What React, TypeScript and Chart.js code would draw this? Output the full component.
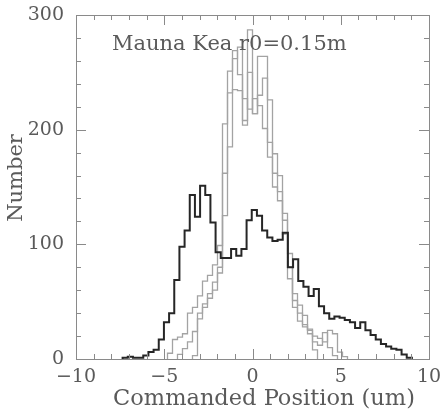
import React, { useEffect, useRef } from 'react';
import { Chart, registerables } from 'chart.js';

Chart.register(...registerables);

// Black histogram (bins start at blackStart, width blackWidth)
const blackStart = -7.36;
const blackWidth = 0.2927;
const blackCounts = [
  1, 2, 1, 1, 3, 6, 8, 17, 32, 40,
  69, 98, 112, 143, 124, 151, 143, 119, 93, 88,
  88, 96, 90, 96, 121, 130, 125, 112, 106, 103,
  104, 110, 80, 87, 68, 63, 55, 61, 46, 40,
  35, 37, 36, 34, 32, 27, 32, 25, 21, 17,
  13, 11, 9, 8, 4, 1,
];

// Gray histograms
const grayWidth = 0.2833;
const grayAStart = -4.816;
const grayACounts = [
  5, 17, 19, 22, 40, 45, 55, 68, 73, 82,
  99, 205, 251, 269, 248, 208, 287, 214, 264, 264,
  226, 179, 160, 127, 92, 57, 47, 38, 26, 8,
];
const grayBStart = -4.25;
const grayBCounts = [
  4, 9, 15, 24, 35, 48, 57, 67, 80, 162,
  232, 262, 272, 227, 218, 227, 221, 201, 189, 162,
  146, 121, 80, 51, 40, 30, 22, 15, 12, 23,
  10, 3,
];
const grayCStart = -3.4;
const grayCCounts = [
  3, 40, 45, 53, 60, 75, 125, 185, 235, 234,
  204, 250, 214, 230, 245, 176, 150, 138, 109, 70,
  45, 33, 28, 25, 20, 18, 15, 25, 22, 6,
  2,
];

const xTickLabels = [-10, -5, 0, 5, 10];
const yTickLabels = [0, 100, 200, 300];
const xMinorStep = 1;
const yMinorStep = 20;

const titleText = 'Mauna Kea r0=0.15m';
const xTitle = 'Commanded Position (um)';
const yTitle = 'Number';

function histPoints(start: number, width: number, counts: number[]) {
  const pts: { x: number; y: number }[] = [{ x: start, y: 0 }];
  counts.forEach((c, i) => pts.push({ x: start + i * width, y: c }));
  pts.push({ x: start + counts.length * width, y: 0 });
  return pts;
}

const TEXT = '#5a5a5a';
const AXIS = '#8a8a8a';
const FONT_TITLE = '21px "DejaVu Serif"';
const FONT_XTITLE = '22.5px "DejaVu Serif"';
const FONT_TICK = '19px "DejaVu Serif"';

const framePlugin = {
  id: 'frameTicks',
  afterDraw(chart: any) {
    const { ctx, chartArea } = chart;
    const xs = chart.scales.x;
    const ys = chart.scales.y;
    const { left, right, top, bottom } = chartArea;
    ctx.save();
    ctx.strokeStyle = AXIS;
    ctx.lineWidth = 1;
    ctx.strokeRect(left + 0.5, top + 0.5, right - left, bottom - top);
    ctx.beginPath();
    for (let v = xs.min; v <= xs.max + 1e-9; v += xMinorStep) {
      const px = Math.round(xs.getPixelForValue(v)) + 0.5;
      const len = Math.abs(v % 5) < 1e-9 ? 10 : 5;
      ctx.moveTo(px, bottom);
      ctx.lineTo(px, bottom - len);
      ctx.moveTo(px, top);
      ctx.lineTo(px, top + len);
    }
    for (let v = ys.min; v <= ys.max + 1e-9; v += yMinorStep) {
      const py = Math.round(ys.getPixelForValue(v)) + 0.5;
      const len = Math.abs(v % 100) < 1e-9 ? 10 : 5;
      ctx.moveTo(left, py);
      ctx.lineTo(left + len, py);
      ctx.moveTo(right, py);
      ctx.lineTo(right - len, py);
    }
    ctx.stroke();

    ctx.fillStyle = TEXT;
    ctx.font = FONT_TICK;
    ctx.textAlign = 'center';
    ctx.textBaseline = 'middle';
    xTickLabels.forEach((v) => {
      const label = String(v).replace('-', '\u2212');
      ctx.fillText(label, xs.getPixelForValue(v), bottom + 18);
    });
    ctx.textAlign = 'right';
    yTickLabels.forEach((v) => {
      ctx.fillText(String(v), left - 12, ys.getPixelForValue(v));
    });

    ctx.font = FONT_XTITLE;
    ctx.textAlign = 'center';
    ctx.fillText(xTitle, 264, 399);
    ctx.font = FONT_TITLE;
    ctx.textAlign = 'left';
    ctx.fillText(titleText, 112, 45);

    ctx.save();
    ctx.translate(17, 178);
    ctx.rotate(-Math.PI / 2);
    ctx.textAlign = 'center';
    ctx.fillText(yTitle, 0, 0);
    ctx.restore();
    ctx.restore();
  },
};

export default function App() {
  const ref = useRef<HTMLCanvasElement | null>(null);
  useEffect(() => {
    if (!ref.current) return;
    const grayStyle = {
      borderColor: '#a3a3a3',
      borderWidth: 1.3,
      pointRadius: 0,
      stepped: 'before' as const,
      fill: false,
      order: 1,
      borderJoinStyle: 'miter' as const,
    };
    const chart = new Chart(ref.current, {
      type: 'line',
      data: {
        datasets: [
          {
            label: 'black',
            data: histPoints(blackStart, blackWidth, blackCounts),
            borderColor: '#262626',
            borderWidth: 2,
            pointRadius: 0,
            stepped: 'before',
            fill: false,
            order: 0,
            borderJoinStyle: 'miter',
          },
          { label: 'grayA', data: histPoints(grayAStart, grayWidth, grayACounts), ...grayStyle },
          { label: 'grayB', data: histPoints(grayBStart, grayWidth, grayBCounts), ...grayStyle },
          { label: 'grayC', data: histPoints(grayCStart, grayWidth, grayCCounts), ...grayStyle },
        ],
      },
      options: {
        responsive: false,
        animation: false,
        devicePixelRatio: 1,
        layout: { padding: { left: 76, right: 15, top: 15, bottom: 58 } },
        plugins: { legend: { display: false }, tooltip: { enabled: false } },
        scales: {
          x: { type: 'linear', min: -10, max: 10, display: false },
          y: { type: 'linear', min: 0, max: 300, display: false },
        },
      },
      plugins: [framePlugin],
    });
    return () => chart.destroy();
  }, []);
  return (
    <div style={{ position: 'fixed', left: 0, top: 0, width: 444, height: 417, background: '#fff' }}>
      <canvas ref={ref} width={444} height={417} />
    </div>
  );
}
